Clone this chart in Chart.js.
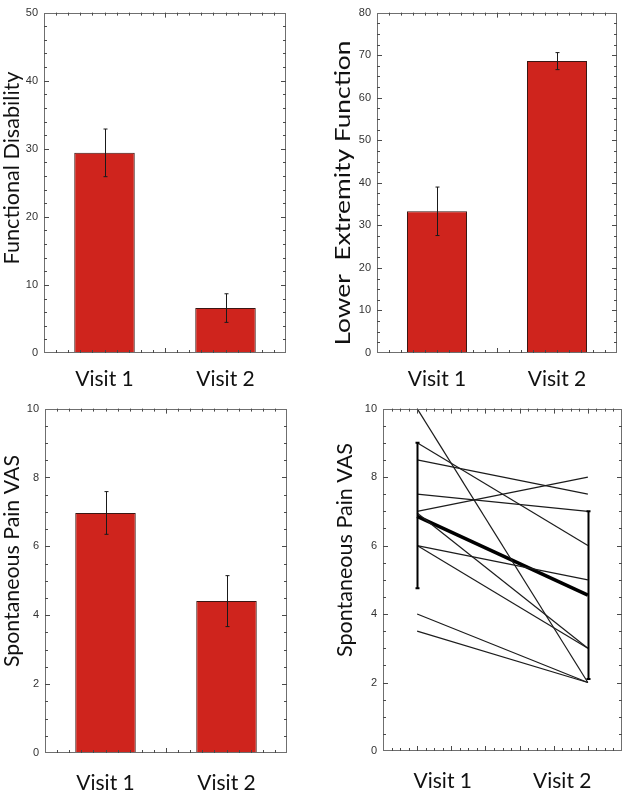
<!DOCTYPE html>
<html>
<head>
<meta charset="utf-8">
<script src="https://cdn.jsdelivr.net/npm/chart.js@4.4.1/dist/chart.umd.min.js"></script>
<style>
html, body { margin: 0; padding: 0; background: #ffffff; }
#wrap { position: relative; width: 625px; height: 792px; overflow: hidden; }
.panel { position: absolute; }
</style>
</head>
<body>
<div id="wrap">
  <div class="panel" style="left:0px;top:0px;width:310px;height:396px"><canvas id="c1"></canvas></div>
  <div class="panel" style="left:310px;top:0px;width:315px;height:396px"><canvas id="c2"></canvas></div>
  <div class="panel" style="left:0px;top:396px;width:310px;height:396px"><canvas id="c3"></canvas></div>
  <div class="panel" style="left:310px;top:396px;width:315px;height:396px"><canvas id="c4"></canvas></div>
</div>
<script>
// ---------------- data ----------------
const visits = ['Visit 1', 'Visit 2'];

const disabilityMean = [29.4, 6.6];
const disabilityErr  = [3.5, 2.1];

const extremityMean = [33.3, 68.6];
const extremityErr  = [5.7, 2.0];

const painMean = [6.97, 4.41];
const painErr  = [0.62, 0.74];

// individual patients (spaghetti plot)
const visitX      = [1, 6];
const painVisit1  = [10, 9, 8.5, 7.5, 7, 6.95, 6, 6, 4, 3.5];
const painVisit2  = [2, 6, 7.5, 7, 8, 3, 5, 3, 2, 2];
const groupMean   = [6.85, 4.55];
const groupLow    = [4.75, 2.1];
const groupHigh   = [9.0, 7.0];

// ---------------- styles ----------------
const NARROW = "'Liberation Sans Narrow','Arial Narrow','Liberation Sans',Arial,sans-serif";
const LATO = "Lato, Carlito, 'Open Sans', sans-serif";
const BAR_FILL = '#cf241d';
const BAR_EDGE = '#3b1613';
const FRAME = '#6f6f6f';
const TICKC = '#4a4a4a';

// ---------------- plugins ----------------
const frameTicks = {
  id: 'frameTicks',
  afterDatasetsDraw(chart, args, o) {
    const { ctx, chartArea: a } = chart;
    const ys = chart.scales.y;
    ctx.save();
    ctx.strokeStyle = FRAME;
    ctx.lineWidth = 1;
    ctx.strokeRect(Math.round(a.left) + 0.5, Math.round(a.top) + 0.5,
                   Math.round(a.right) - Math.round(a.left) - 1, Math.round(a.bottom) - Math.round(a.top) - 1);
    ctx.strokeStyle = TICKC;
    ctx.beginPath();
    for (let v = ys.min; v <= ys.max + 1e-9; v += o.yMinor) {
      if (v <= ys.min + 1e-9 || v >= ys.max - 1e-9) continue;
      const major = Math.abs(v / o.yMajor - Math.round(v / o.yMajor)) < 1e-6;
      const len = major ? 5 : 3;
      const py = Math.round(ys.getPixelForValue(v)) + 0.5;
      ctx.moveTo(a.left, py); ctx.lineTo(a.left + len, py);
      ctx.moveTo(a.right, py); ctx.lineTo(a.right - len, py);
    }
    const xt = [];
    const xs = chart.scales.x;
    if (o.xMode === 'category') {
      const p0 = xs.getPixelForValue(0), p1 = xs.getPixelForValue(1);
      const step = (p1 - p0) / o.xDiv;
      for (let k = -o.xDiv / 2 + 1; k < o.xDiv * 1.5; k++) {
        xt.push({ px: p0 + k * step, major: k === o.xDiv / 2 });
      }
    } else {
      for (let v = xs.min + o.xMinor; v < xs.max - 1e-9; v += o.xMinor) {
        xt.push({ px: xs.getPixelForValue(v), major: Math.abs(v - Math.round(v)) < 1e-6 });
      }
    }
    xt.forEach(t => {
      const len = t.major ? 5 : 3;
      const px = Math.round(t.px) + 0.5;
      ctx.moveTo(px, a.bottom); ctx.lineTo(px, a.bottom - len);
      ctx.moveTo(px, a.top); ctx.lineTo(px, a.top + len);
    });
    ctx.stroke();
    ctx.restore();
  }
};

const errorBars = {
  id: 'errorBars',
  afterDatasetsDraw(chart, args, o) {
    const { ctx } = chart;
    const ys = chart.scales.y;
    ctx.save();
    chart.data.datasets.forEach((ds, di) => {
      const meta = chart.getDatasetMeta(di);
      let lows = null, highs = null;
      if (ds.errors) {
        lows = ds.data.map((m, i) => m - ds.errors[i]);
        highs = ds.data.map((m, i) => m + ds.errors[i]);
      } else if (ds.rangeLow) {
        lows = ds.rangeLow; highs = ds.rangeHigh;
      } else return;
      ctx.strokeStyle = o.color || '#1a1a1a';
      ctx.lineWidth = o.width || 1;
      meta.data.forEach((el, i) => {
        const x = Math.round(el.x) + 0.5;
        const y1 = ys.getPixelForValue(highs[i]);
        const y2 = ys.getPixelForValue(lows[i]);
        const c = o.cap || 2;
        ctx.beginPath();
        ctx.moveTo(x, y1); ctx.lineTo(x, y2);
        ctx.moveTo(x - c, y1); ctx.lineTo(x + c, y1);
        ctx.moveTo(x - c, y2); ctx.lineTo(x + c, y2);
        ctx.stroke();
      });
    });
    ctx.restore();
  }
};

const sideTitle = {
  id: 'sideTitle',
  afterDraw(chart, args, o) {
    const { ctx } = chart;
    ctx.save();
    ctx.translate(o.x, o.y);
    ctx.rotate(-Math.PI / 2);
    ctx.font = `${o.size}px ${LATO}`;
    ctx.fillStyle = '#111111';
    ctx.textAlign = 'center';
    ctx.textBaseline = 'middle';
    if (o.len) {
      const w = ctx.measureText(o.text).width;
      ctx.scale(o.len / w, 1);
    }
    ctx.fillText(o.text, 0, 0);
    ctx.restore();
  }
};

// ---------------- builders ----------------
function barChart(id, p) {
  return new Chart(document.getElementById(id), {
    type: 'bar',
    data: {
      labels: visits,
      datasets: [{
        data: p.means,
        errors: p.errors,
        backgroundColor: BAR_FILL,
        borderColor: BAR_EDGE,
        borderWidth: 1,
        barPercentage: 0.5,
        categoryPercentage: 1
      }]
    },
    options: {
      responsive: true, maintainAspectRatio: false, animation: false,
      layout: { padding: { left: 0, right: p.padRight, top: p.padTop, bottom: 0 } },
      plugins: {
        legend: { display: false }, tooltip: { enabled: false },
        frameTicks: { xMode: 'category', xDiv: 10, yMinor: p.yMinor, yMajor: p.yStep },
        errorBars: { color: '#1a1a1a', width: 1, cap: 2 },
        sideTitle: { text: p.title, x: p.tx, y: p.ty, size: 22, len: p.tlen }
      },
      scales: {
        x: {
          grid: { display: false, drawTicks: false }, border: { display: false },
          ticks: { font: { family: LATO, size: 21 }, color: '#111111', padding: p.labelPad },
          afterFit: s => { s.height = p.xH; }
        },
        y: {
          min: 0, max: p.yMax,
          grid: { display: false, drawTicks: false }, border: { display: false },
          ticks: { stepSize: p.yStep, font: { family: NARROW, size: 11 }, color: '#333333', padding: 6 },
          afterFit: s => { s.width = p.yW; }
        }
      }
    },
    plugins: [frameTicks, errorBars, sideTitle]
  });
}

barChart('c1', {
  means: disabilityMean, errors: disabilityErr, yMax: 50, yStep: 10, yMinor: 2,
  yW: 44, padRight: 24, padTop: 8, xH: 43, labelPad: 14,
  title: 'Functional Disability', tx: 12, ty: 168, tlen: 193
});
barChart('c2', {
  means: extremityMean, errors: extremityErr, yMax: 80, yStep: 10, yMinor: 2.5,
  yW: 67, padRight: 8, padTop: 8, xH: 43, labelPad: 14,
  title: 'Lower  Extremity Function', tx: 33, ty: 193, tlen: 305
});
barChart('c3', {
  means: painMean, errors: painErr, yMax: 10, yStep: 2, yMinor: 0.5,
  yW: 45, padRight: 23, padTop: 12, xH: 39, labelPad: 18,
  title: 'Spontaneous Pain VAS', tx: 12, ty: 165, tlen: 212
});

// spaghetti plot
const lineSets = painVisit1.map((v, i) => ({
  data: [{ x: visitX[0], y: v }, { x: visitX[1], y: painVisit2[i] }],
  borderColor: '#1c1c1c', borderWidth: 1.2, pointRadius: 0, xAxisID: 'x'
}));
lineSets.push({
  data: groupMean.map((v, i) => ({ x: visitX[i], y: v })),
  rangeLow: groupLow, rangeHigh: groupHigh,
  borderColor: '#000000', borderWidth: 3.5, pointRadius: 0, xAxisID: 'x'
});

new Chart(document.getElementById('c4'), {
  type: 'line',
  data: { datasets: lineSets },
  options: {
    responsive: true, maintainAspectRatio: false, animation: false,
    layout: { padding: { left: 0, right: 3, top: 12, bottom: 0 } },
    plugins: {
      legend: { display: false }, tooltip: { enabled: false },
      frameTicks: { xMode: 'linear', xMinor: 0.25, yMinor: 0.5, yMajor: 2 },
      errorBars: { color: '#000000', width: 2, cap: 2 },
      sideTitle: { text: 'Spontaneous Pain VAS', x: 35, y: 154, size: 22, len: 214 }
    },
    scales: {
      x: { type: 'linear', min: 0, max: 7, display: false },
      xc: {
        type: 'category', labels: visits, position: 'bottom', offset: true, bounds: 'ticks',
        grid: { display: false, drawTicks: false }, border: { display: false },
        ticks: { font: { family: LATO, size: 21 }, color: '#111111', padding: 18 },
        afterFit: s => { s.height = 41; }
      },
      y: {
        min: 0, max: 10,
        grid: { display: false, drawTicks: false }, border: { display: false },
        ticks: { stepSize: 2, font: { family: NARROW, size: 11 }, color: '#333333', padding: 6 },
        afterFit: s => { s.width = 73; }
      }
    }
  },
  plugins: [frameTicks, errorBars, sideTitle]
});
</script>
</body>
</html>
